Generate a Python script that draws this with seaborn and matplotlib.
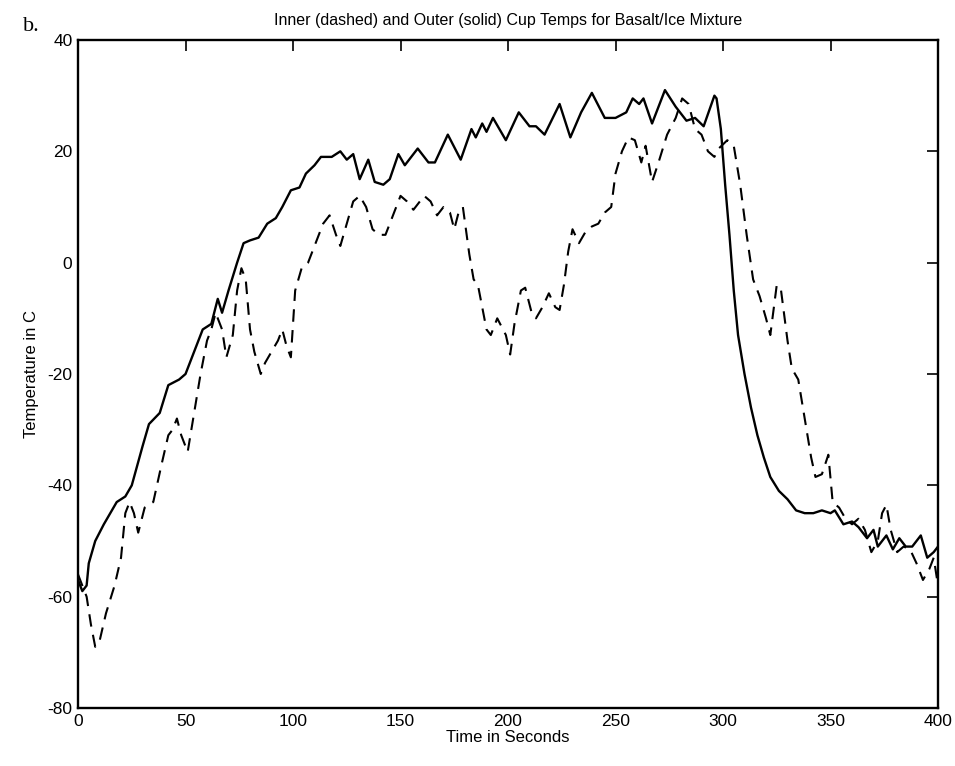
import matplotlib
matplotlib.use("Agg")
import matplotlib.pyplot as plt
import seaborn as sns
import pandas as pd

# Outer cup (solid)
t_outer = [0, 2, 4, 5, 8, 12, 18, 22, 25, 30, 33, 38, 42, 47, 50, 55, 58, 62, 65, 67,
           70, 74, 77, 80, 84, 88, 92, 95, 99, 103, 106, 110, 113, 118, 122, 125, 128, 131,
           135, 138, 142, 145, 149, 152, 158, 163, 166, 172, 178, 183, 185, 188, 190, 193,
           199, 205, 210, 213, 217, 224, 229, 234, 239, 245, 250, 255, 258, 261, 263, 267,
           273, 278, 283, 287, 291, 296, 297, 299, 301, 303, 305, 307, 310, 313, 316, 319,
           322, 326, 330, 334, 338, 342, 346, 350, 352, 356, 360, 363, 367, 370, 372, 376,
           379, 382, 385, 388, 392, 395, 398, 400]
temp_outer = [-57, -59, -58, -54, -50, -47, -43, -42, -40, -33, -29, -27, -22, -21, -20, -15, -12, -11, -6.5, -9,
              -5, 0, 3.5, 4, 4.5, 7, 8, 10, 13, 13.5, 16, 17.5, 19, 19, 20, 18.5, 19.5, 15,
              18.5, 14.5, 14, 15, 19.5, 17.5, 20.5, 18, 18, 23, 18.5, 24, 22.5, 25, 23.5, 26,
              22, 27, 24.5, 24.5, 23, 28.5, 22.5, 27, 30.5, 26, 26, 27, 29.5, 28.5, 29.5, 25,
              31, 28, 25.5, 26, 24.5, 30, 29.5, 24, 14, 5, -5, -13, -20, -26, -31, -35,
              -38.5, -41, -42.5, -44.5, -45, -45, -44.5, -45, -44.5, -47, -46.5, -47.5, -49.5, -48, -51, -49,
              -51.5, -49.5, -51, -51, -49, -53, -52, -51]

# Inner cup (dashed)
t_inner = [0, 2, 4, 6, 8, 10, 13, 17, 20, 22, 24, 26, 28, 31, 35, 39, 42, 44, 46, 48,
           51, 54, 57, 60, 62, 64, 67, 69, 72, 74, 76, 78, 80, 82, 85, 87, 90, 93, 95, 97,
           99, 101, 104, 107, 110, 114, 117, 120, 122, 125, 128, 131, 134, 137, 140, 143, 145,
           148, 150, 153, 156, 158, 161, 164, 167, 170, 173, 175, 177, 179, 182, 184, 186, 188,
           190, 192, 195, 199, 201, 203, 206, 208, 211, 213, 216, 219, 222, 224, 226, 228, 230,
           233, 236, 239, 242, 245, 248, 250, 253, 256, 259, 262, 264, 267, 270, 274, 278, 281,
           284, 287, 290, 293, 296, 298, 302, 305, 308, 311, 314, 317, 320, 322, 325, 327, 330,
           332, 335, 338, 341, 343, 346, 349, 351, 354, 357, 360, 363, 366, 369, 372, 374, 376,
           378, 381, 384, 387, 390, 393, 396, 398, 400]
temp_inner = [-56, -58, -60, -65, -69, -68, -63, -58, -53, -45, -43, -45, -48.5, -44, -43, -36, -31, -30, -28, -31,
              -34, -27, -20, -14, -12, -9, -12, -17, -13, -5, -1, -3, -12, -16, -20, -18, -16, -14, -12, -15,
              -17, -5, -1, 0, 3, 7, 8.5, 5, 3, 7, 11, 12, 10, 6, 5, 5, 7,
              10, 12, 11, 9.5, 10.5, 12, 11, 8.5, 10, 9, 6, 9, 10, 1.5, -3, -4, -8,
              -12, -13, -10, -13, -16.5, -11, -5, -4.5, -9, -10, -8, -5.5, -8, -8.5, -4, 2, 6,
              3.5, 5.5, 6.5, 7, 9, 10, 16, 20, 22.5, 22, 18, 21, 14.5, 18, 23, 26, 29.5,
              28.5, 24, 23, 20, 19, 20.5, 22, 21, 14, 5, -3, -6, -10, -13, -4, -5, -14,
              -19, -21, -28, -35, -38.5, -38, -34.5, -43, -44, -46, -47, -46, -48, -52, -50, -45, -43.5,
              -48, -52, -51, -51.5, -54, -57, -55, -53, -58]

outer = pd.DataFrame({"t": t_outer, "T": temp_outer})
inner = pd.DataFrame({"t": t_inner, "T": temp_inner})

sns.set_style("white")
plt.rcParams["font.family"] = ["Liberation Sans", "DejaVu Sans"]
plt.rcParams["axes.unicode_minus"] = False
plt.rcParams["text.color"] = "black"
plt.rcParams["axes.labelcolor"] = "black"

fig = plt.figure(figsize=(9.55, 7.66), dpi=100)
ax = fig.add_axes([0.0817, 0.0757, 0.9005, 0.8721])

sns.lineplot(data=outer, x="t", y="T", ax=ax, color="black", linewidth=1.7)
sns.lineplot(data=inner, x="t", y="T", ax=ax, color="black", linewidth=1.5)
ax.lines[-1].set_linestyle((0, (6, 4)))

ax.set_xlim(0, 400)
ax.set_ylim(-80, 40)
ax.set_xticks(range(0, 401, 50))
ax.set_yticks(range(-80, 41, 20))
ax.tick_params(direction="in", length=8, width=1.2, top=True, right=True,
               labelsize=12.5, colors="black", pad=4)
for s in ax.spines.values():
    s.set_linewidth(1.7)
    s.set_color("black")

ax.set_title("Inner (dashed) and Outer (solid) Cup Temps for Basalt/Ice Mixture",
             fontsize=11.5, pad=11, color="black")
ax.set_xlabel("Time in Seconds", fontsize=12, labelpad=1, color="black")
ax.set_ylabel("Temperature in C", fontsize=12, labelpad=6, color="black")
fig.text(0.024, 0.965, "b.", fontsize=16, family="Liberation Serif", va="center",
         color="black")

fig.savefig("out.png", dpi=100)
